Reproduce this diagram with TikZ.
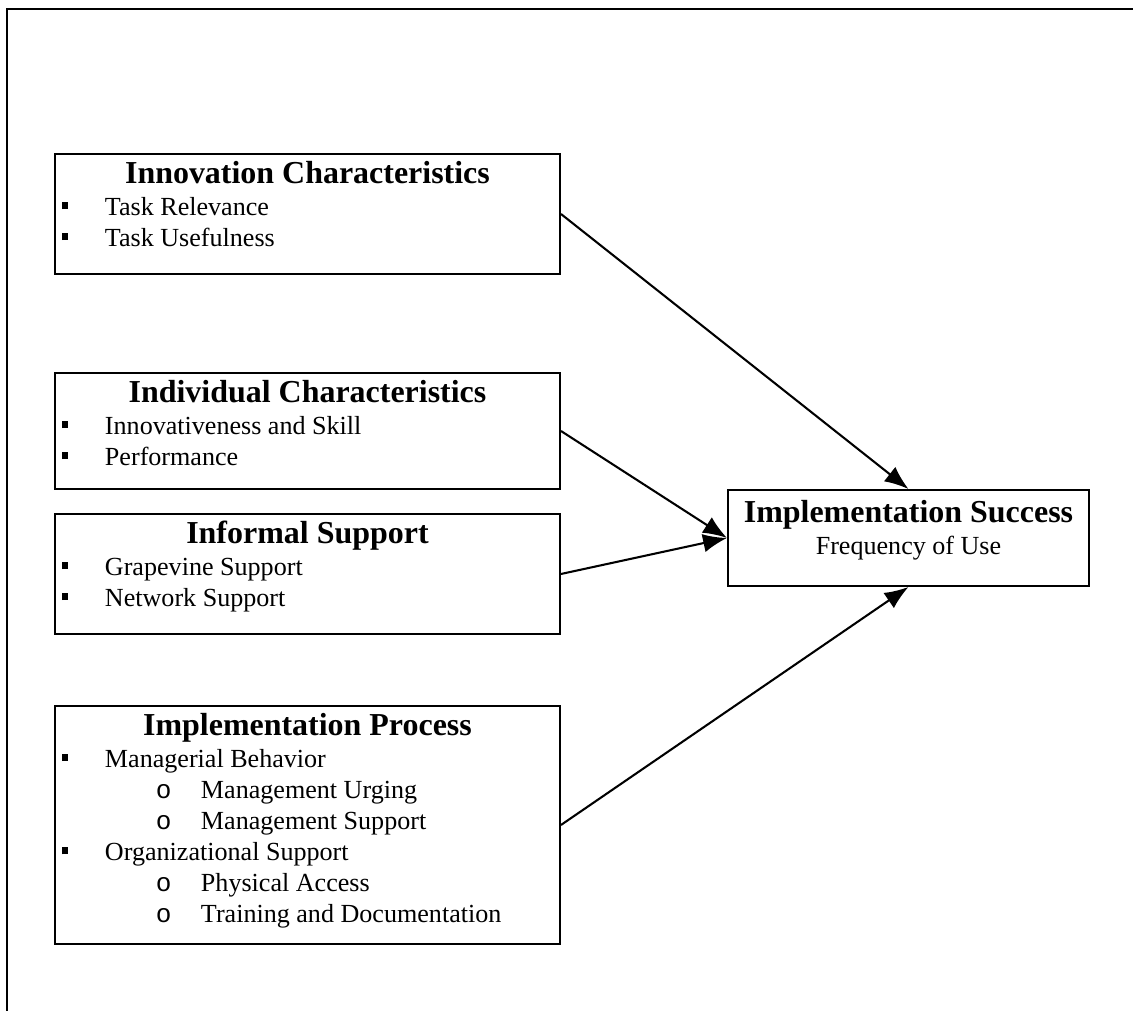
\documentclass[tikz,border=0pt]{standalone}
\usepackage{fontspec}
\setmainfont{Liberation Serif}
\setmonofont{Liberation Mono}
\usepackage{xcolor}
\usetikzlibrary{arrows.meta}

% one unit of the drawing
\newlength{\pxu}
\setlength{\pxu}{0.46pt}

\newcommand{\boxhead}[2]{\rule{0pt}{#1\pxu}\makebox[\linewidth][c]{\fontsize{14.7pt}{14.3pt}\selectfont\bfseries #2}}
\newcommand{\bul}[1]{\makebox[50\pxu][l]{\hspace*{7\pxu}\rule[6\pxu]{6\pxu}{7\pxu}}#1}
\newcommand{\subbul}[1]{\hspace*{101\pxu}\makebox[45\pxu][l]{\texttt{o}}#1}
\newcommand{\factorbox}[3]{\parbox[c][#2\pxu][t]{#1\pxu}{\fontsize{12pt}{14.3pt}\selectfont\raggedright #3}}

\tikzset{
  factor/.style={draw,line width=0.9pt,anchor=north west,inner sep=0pt},
}

\begin{document}
\begin{tikzpicture}[->,>={Latex[length=11pt,width=8.5pt]},x=\pxu,y=-\pxu,line width=0.95pt]
  \useasboundingbox (0,0) rectangle (1133,1011);
  \draw[-,line width=0.9pt] (1133,9) -- (7,9) -- (7,1011);

  \node[factor] (innov)   at (54,153) {\factorbox{505}{120}{\boxhead{30}{Innovation Characteristics}\\
      \bul{Task Relevance}\\
      \bul{Task Usefulness}}};
  \node[factor] (indiv)   at (54,372) {\factorbox{505}{116}{\boxhead{30}{Individual Characteristics}\\
      \bul{Innovativeness and Skill}\\
      \bul{Performance}}};
  \node[factor] (inform)  at (54,513) {\factorbox{505}{120}{\boxhead{30}{Informal Support}\\
      \bul{Grapevine Support}\\
      \bul{Network Support}}};
  \node[factor] (process) at (54,705) {\factorbox{505}{238}{\boxhead{30}{Implementation Process}\\
      \bul{Managerial Behavior}\\
      \subbul{Management Urging}\\
      \subbul{Management Support}\\
      \bul{Organizational Support}\\
      \subbul{Physical Access}\\
      \subbul{Training and Documentation}}};
  \node[factor] (success) at (727,489) {\parbox[c][96\pxu][t]{361\pxu}{\fontsize{12pt}{14.3pt}\selectfont\centering
      \rule{0pt}{33\pxu}{\fontsize{14.7pt}{14.3pt}\selectfont\bfseries Implementation Success}\\
      Frequency of Use}};

  \path (innov.east)   edge (success.north)
        (indiv.east)   edge (success.west)
        (inform.east)  edge (success.west)
        (process.east) edge (success.south);
\end{tikzpicture}
\end{document}
